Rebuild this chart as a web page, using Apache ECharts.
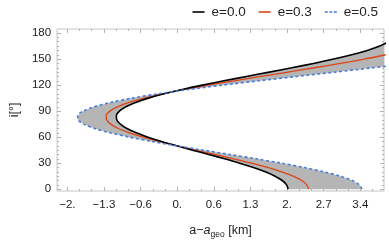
<!DOCTYPE html>
<html><head><meta charset="utf-8">
<script src="https://cdn.jsdelivr.net/npm/echarts@6/dist/echarts.min.js"></script>
<style>html,body{margin:0;padding:0;background:#fff}#c{width:389px;height:244px}</style>
</head><body><div id="c"></div>
<script>
// inclination (deg) sample points
const inclination = [0,5,10,15,20,25,30,35,40,45,50,55,60,65,70,75,80,85,90,95,100,105,110,115,120,125,130,135,140,145,150,155,160,165,170];
// a - a_geo (km)
const xE00 = [2.060,2.032,1.950,1.817,1.636,1.415,1.160,0.880,0.585,0.285,-0.010,-0.289,-0.542,-0.759,-0.933,-1.056,-1.123,-1.129,-1.073,-0.954,-0.773,-0.535,-0.244,0.092,0.466,0.867,1.285,1.709,2.128,2.530,2.904,3.240,3.529,3.762,3.934];
const xE03 = [2.440,2.407,2.310,2.153,1.940,1.678,1.377,1.047,0.698,0.344,-0.003,-0.332,-0.630,-0.886,-1.091,-1.235,-1.312,-1.318,-1.250,-1.107,-0.892,-0.609,-0.263,0.136,0.580,1.056,1.553,2.056,2.552,3.029,3.473,3.872];
const xE05 = [3.430,3.384,3.248,3.026,2.726,2.358,1.935,1.470,0.980,0.482,-0.006,-0.468,-0.887,-1.246,-1.532,-1.733,-1.840,-1.847,-1.748,-1.545,-1.239,-0.837,-0.347,0.218,0.846,1.519,2.221,2.932,3.634,4.307];
const seriesNames = ['e=0.0','e=0.3','e=0.5'];
const xTickValues = [-2.04,-1.36,-0.68,0,0.68,1.36,2.04,2.72,3.40];
const xTickLabels = ['\u22122.','\u22121.3','\u22120.6','0.','0.6','1.3','2.','2.7','3.4'];
const yTickValues = [0,30,60,90,120,150,180];

const X_MIN = -2.23, X_MAX = 3.84, Y_MIN = -2.1, Y_MAX = 184.7;
const xMinor = [], yMinor = [];
for (let v = xTickValues[0] - 0.68; v <= X_MAX; v += 0.68/3) if (v >= X_MIN) xMinor.push(+v.toFixed(4));
for (let v = 0; v <= Y_MAX; v += 5) yMinor.push(v);

const pair = (arr) => arr.map((x, k) => [x, inclination[k]]);
const tickColor = '#b4b4b4';
const FONT = 'Liberation Sans, Arial, sans-serif';

function xAx(pos, values, len, labels) {
  return {type:'value', position:pos, min:X_MIN, max:X_MAX, splitLine:{show:false},
    axisLine:{show:false, onZero:false},
    axisTick:{show:true, inside:true, length:len, customValues:values, lineStyle:{color:tickColor, width:1}},
    axisLabel: labels ? {show:true, customValues:values, margin:8, color:'#222', fontSize:11.5, fontFamily:FONT,
      formatter:(v)=>{let b=0,d=1e9;xTickValues.forEach((t,i)=>{if(Math.abs(t-v)<d){d=Math.abs(t-v);b=i;}});return xTickLabels[b];}} : {show:false}};
}
function yAx(pos, values, len, labels) {
  return {type:'value', position:pos, min:Y_MIN, max:Y_MAX, splitLine:{show:false},
    axisLine:{show:false, onZero:false},
    axisTick:{show:true, inside:true, length:len, customValues:values, lineStyle:{color:tickColor, width:1}},
    axisLabel: labels ? {show:true, customValues:values, margin:6, color:'#222', fontSize:11.5, fontFamily:FONT} : {show:false}};
}

const xAxes = [xAx('bottom', xTickValues, 4, true), xAx('bottom', xMinor, 2, false), xAx('top', xTickValues, 4, false), xAx('top', xMinor, 2, false)];
xAxes[0].name = '{n|a\u2212}{it|a}{sub|geo}{n| [km]}';
xAxes[0].nameLocation = 'middle';
xAxes[0].nameGap = 32;
xAxes[0].nameTextStyle = {fontFamily:FONT, color:'#222', fontSize:12.5, rich:{
  n:{fontSize:12.5, fontFamily:FONT, color:'#222'},
  it:{fontSize:12.5, fontFamily:FONT, fontStyle:'italic', color:'#222'},
  sub:{fontSize:8.5, fontFamily:FONT, color:'#222', padding:[7,0,0,0]}}};
const yAxes = [yAx('left', yTickValues, 4, true), yAx('left', yMinor, 2, false), yAx('right', yTickValues, 4, false), yAx('right', yMinor, 2, false)];
yAxes[0].name = 'i[\u00b0]';
yAxes[0].nameLocation = 'middle';
yAxes[0].nameGap = 34;
yAxes[0].nameTextStyle = {fontFamily:FONT, color:'#222', fontSize:12.5};

const solidIcon = 'path://M0,0H12V1.6H0Z';
const dashIcon = 'path://M0,0H3V1.6H0Z M4.5,0H7.5V1.6H4.5Z M9,0H12V1.6H9Z';

const chart = echarts.init(document.getElementById('c'), null, {renderer:'canvas'});
chart.setOption({
  animation:false,
  backgroundColor:'#fff',
  grid:{left:49, top:29, width:335, height:166.5, show:true, borderColor:'#c4c4c4', borderWidth:1, containLabel:false},
  legend:{data:[{name:seriesNames[0], icon:solidIcon},{name:seriesNames[1], icon:solidIcon},{name:seriesNames[2], icon:dashIcon}],
    right:6, top:0, itemWidth:12, itemHeight:1.6, itemGap:13,
    textStyle:{fontFamily:FONT, fontSize:13.5, color:'#222', padding:[0,0,0,2]}},
  xAxis: xAxes,
  yAxis: yAxes,
  series:[
    {type:'custom', name:'fill', xAxisIndex:0, yAxisIndex:0, z:1, silent:true,
     data:[[0,90]], encode:{x:0,y:1},
     renderItem:function(params, api){
       const pts = [];
       for (let k=0;k<xE00.length;k++) pts.push(api.coord([xE00[k], inclination[k]]));
       for (let k=xE05.length-1;k>=0;k--) pts.push(api.coord([xE05[k], inclination[k]]));
       const cs = params.coordSys;
       return {type:'group', clipPath:{type:'rect', shape:{x:cs.x, y:cs.y, width:cs.width, height:cs.height}},
         children:[{type:'polygon', shape:{points:pts}, style:{fill:'#b5b5b5', stroke:null}}]};
     }},
    {type:'line', name:seriesNames[0], data:pair(xE00), showSymbol:false, symbol:'none', smooth:0.3, z:4,
     lineStyle:{color:'#000', width:1.6}, itemStyle:{color:'#000'}},
    {type:'line', name:seriesNames[1], data:pair(xE03), showSymbol:false, symbol:'none', smooth:0.3, z:3,
     lineStyle:{color:'#dc4418', width:1.3}, itemStyle:{color:'#dc4418'}},
    {type:'line', name:seriesNames[2], data:pair(xE05), showSymbol:false, symbol:'none', smooth:0.3, z:5,
     lineStyle:{color:'#4a7ddb', width:1.6, type:[3,2.5]}, itemStyle:{color:'#4a7ddb'}}
  ]
});
</script></body></html>
